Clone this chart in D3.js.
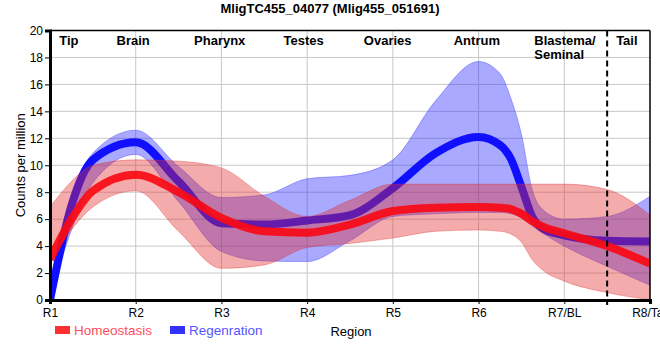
<!DOCTYPE html>
<html>
<head>
<meta charset="utf-8">
<script src="https://cdn.jsdelivr.net/npm/d3@7/dist/d3.min.js"></script>
<style>
  html, body { margin: 0; padding: 0; background: #fff; }
  svg { display: block; font-family: "Liberation Sans", Arial, sans-serif; }
</style>
</head>
<body>
<svg id="chart" width="660" height="360"></svg>
<script>
// ---------- data ----------
const title = "MligTC455_04077 (Mlig455_051691)";
const regions = ["R1", "R2", "R3", "R4", "R5", "R6", "R7/BL", "R8/Tail"];
const regionNames = ["Tip", "Brain", "Pharynx", "Testes", "Ovaries", "Antrum", "Blastema/\nSeminal", "Tail"];
const regionNamePos = [0.22, 0.97, 1.98, 2.96, 3.94, 4.98, 5.65, 6.73];
const yTicks = [0, 2, 4, 6, 8, 10, 12, 14, 16, 18, 20];
// sample positions along the region axis (0 = R1 ... 7 = R8)
const positions  = [0,   0.25, 0.5,  1,    1.5,  2,    2.5, 3,    3.5,  4,    4.5,  5,    5.25,  5.375, 5.5,  5.625, 5.75, 6,    6.5,  7];
const homeoMean  = [3.0, 6.0,  8.1,  9.3,  8.0,  6.1,  5.1, 5.0,  5.6,  6.6,  6.85, 6.9,  6.85,  6.75,  6.4,  5.85,  5.45, 4.95, 4.0,  2.7];
const homeoUpper = [6.9, 8.8,  10.0, 10.4, 10.3, 9.8,  7.7, 6.2,  7.4,  8.6,  8.6,  8.6,  8.6,   8.6,   8.6,  8.6,   8.6,  8.6,  8.2,  6.3];
const homeoLower = [2.7, 5.2,  6.9,  8.1,  5.1,  2.35, 2.6, 3.9,  4.2,  4.6,  5.1,  5.2,  5.1,   4.9,   4.3,  3.0,   2.2,  1.4,  0.55, 0.0];
const regenMean  = [0.0, 7.0,  10.4, 11.7, 8.8,  5.7,  5.6, 5.9,  6.3,  8.3,  10.9, 12.1, 11.5,  10.5,  8.4,  6.2,   5.3,  4.8,  4.4,  4.35];
const regenUpper = [0.8, 7.6,  10.9, 12.6, 9.9,  7.6,  7.8, 9.0,  9.25, 10.4, 14.8, 17.7, 16.8,  15.0,  12.3, 8.2,   6.7,  6.0,  6.2,  7.7];
const regenLower = [0.0, 5.2,  8.7,  10.8, 7.3,  3.6,  2.9, 2.85, 4.4,  6.2,  6.4,  6.5,  6.5,   6.4,   6.1,  5.5,   4.95, 4.0,  2.5,  1.1];
const seriesNames = ["Homeostasis", "Regenration"];
const dividerPos = 6.5;

// ---------- layout ----------
const svg = d3.select("#chart");
const W = 660, H = 360;
const mLeft = 50, mRight = 650, mTop = 30.5, mBottom = 300;

const x = d3.scaleLinear().domain([0, 7]).range([mLeft, mRight]);
const y = d3.scaleLinear().domain([0, 20]).range([mBottom, mTop]);

svg.append("rect").attr("width", W).attr("height", H).attr("fill", "#fff");

// grid
const grid = svg.append("g");
grid.selectAll("line.h").data(yTicks.filter(v => v > 0)).join("line")
  .attr("x1", mLeft).attr("x2", mRight)
  .attr("y1", d => y(d)).attr("y2", d => y(d))
  .attr("stroke", "#c8c8c8").attr("stroke-width", 1);
grid.selectAll("line.v").data(d3.range(1, regions.length - 1)).join("line")
  .attr("x1", d => x(d)).attr("x2", d => x(d))
  .attr("y1", mTop).attr("y2", mBottom)
  .attr("stroke", "#c8c8c8").attr("stroke-width", 1);

function rows(mean, lo, hi) {
  return positions.map((p, i) => ({ p, m: mean[i], lo: lo[i], hi: hi[i] }));
}
const homeo = rows(homeoMean, homeoLower, homeoUpper);
const regen = rows(regenMean, regenLower, regenUpper);

const area = d3.area().x(d => x(d.p)).y0(d => y(d.lo)).y1(d => y(d.hi)).curve(d3.curveMonotoneX);
const line = d3.line().x(d => x(d.p)).y(d => y(d.m)).curve(d3.curveMonotoneX);

const plot = svg.append("g");
plot.append("clipPath").attr("id", "clip").append("rect")
  .attr("x", mLeft).attr("y", mTop).attr("width", mRight - mLeft).attr("height", mBottom - mTop);
const pg = plot.append("g").attr("clip-path", "url(#clip)");

// regeneration band + line
pg.append("path").datum(regen).attr("d", area)
  .attr("fill", "rgba(40,40,255,0.4)").attr("stroke", "rgba(40,40,255,0.35)").attr("stroke-width", 1);
pg.append("path").datum(regen).attr("d", line)
  .attr("fill", "none").attr("stroke", "#1010ff").attr("stroke-width", 8).attr("stroke-linecap", "butt");
// homeostasis band + line
pg.append("path").datum(homeo).attr("d", area)
  .attr("fill", "rgba(225,45,45,0.4)").attr("stroke", "rgba(225,45,45,0.35)").attr("stroke-width", 1);
pg.append("path").datum(homeo).attr("d", line)
  .attr("fill", "none").attr("stroke", "rgba(250,10,20,0.92)").attr("stroke-width", 8).attr("stroke-linecap", "butt");

// frame
svg.append("line").attr("x1", mLeft).attr("x2", mRight).attr("y1", mTop).attr("y2", mTop)
  .attr("stroke", "#000").attr("stroke-width", 1.5);
svg.append("line").attr("x1", mRight).attr("x2", mRight).attr("y1", mTop).attr("y2", mBottom)
  .attr("stroke", "#000").attr("stroke-width", 1.5);

// divider
svg.append("line").attr("x1", x(dividerPos)).attr("x2", x(dividerPos))
  .attr("y1", mTop).attr("y2", mBottom + 5)
  .attr("stroke", "#000").attr("stroke-width", 2).attr("stroke-dasharray", "6,4");

// axes
const xAxis = d3.axisBottom(x).tickValues(d3.range(regions.length))
  .tickFormat(i => regions[i]).tickSize(4).tickPadding(4);
const gx = svg.append("g").attr("transform", `translate(0,${mBottom})`).call(xAxis);
gx.select(".domain").attr("stroke", "#000").attr("stroke-width", 3);
gx.selectAll("text").attr("font-size", 12).attr("fill", "#000")
  .attr("font-family", "'Liberation Sans', Arial, sans-serif");

const yAxis = d3.axisLeft(y).tickValues(yTicks).tickSize(5).tickPadding(2);
const gy = svg.append("g").attr("transform", `translate(${mLeft},0)`).call(yAxis);
gy.select(".domain").attr("stroke", "#000").attr("stroke-width", 3);
gy.selectAll("text").attr("font-size", 12).attr("fill", "#000")
  .attr("font-family", "'Liberation Sans', Arial, sans-serif");

// title
svg.append("text").attr("x", 330).attr("y", 13).attr("text-anchor", "middle")
  .attr("font-size", 13).attr("font-weight", "bold").text(title);

// y label
svg.append("text").attr("transform", `translate(25,${(mTop + mBottom) / 2}) rotate(-90)`)
  .attr("text-anchor", "middle").attr("font-size", 13).text("Counts per million");

// region names
regionNames.forEach((name, i) => {
  const parts = name.split("\n");
  const t = svg.append("text").attr("font-size", 13).attr("font-weight", "bold")
    .attr("text-anchor", parts.length > 1 ? "start" : "middle");
  parts.forEach((s, j) => {
    t.append("tspan").attr("x", x(regionNamePos[i]))
      .attr("y", 45 + j * 13.5).text(s);
  });
});

// x label
svg.append("text").attr("x", 351).attr("y", 336).attr("text-anchor", "middle")
  .attr("font-size", 13).text("Region");

// legend
const legendColors = ["#ff3030", "#3333ff"];
const legendText = ["#ff4d60", "#5555ff"];
const legX = [55, 170];
seriesNames.forEach((s, i) => {
  svg.append("rect").attr("x", legX[i]).attr("y", 326).attr("width", 15).attr("height", 8)
    .attr("fill", legendColors[i]);
  svg.append("text").attr("x", legX[i] + 19).attr("y", 334.5).attr("font-size", 13.5)
    .attr("fill", legendText[i]).text(s);
});
</script>
</body>
</html>
